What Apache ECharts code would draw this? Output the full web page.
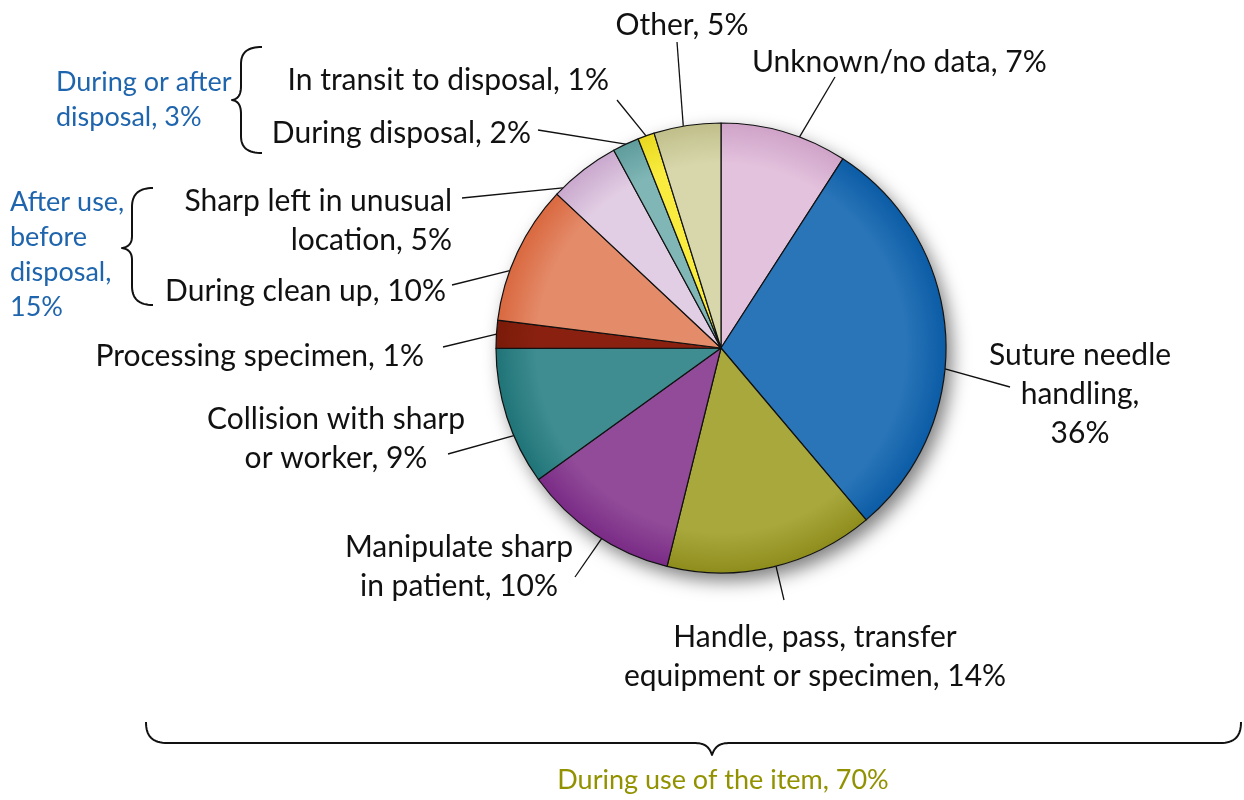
<!DOCTYPE html>
<html lang="en">
<head>
    <meta charset="UTF-8">
    <title>Sharps injuries by activity</title>
    <script src="https://cdn.jsdelivr.net/npm/echarts@6/dist/echarts.min.js"></script>
    <style>
        body { margin: 0; background: #fff; }
        #main { width: 1244px; height: 800px; }
    </style>
</head>
<body>
    <div id="main"></div>
    <script>
    // slices, clockwise from 12 o'clock
    var categories = [
        'Unknown/no data', 'Suture needle handling', 'Handle, pass, transfer equipment or specimen',
        'Manipulate sharp in patient', 'Collision with sharp or worker', 'Processing specimen',
        'During clean up', 'Sharp left in unusual location', 'During disposal',
        'In transit to disposal', 'Other'
    ];
    var values = [9.1, 29.7, 15.0, 11.2, 9.9, 2.0, 10.0, 5.1, 1.9, 1.2, 4.8];
    // printed labels
    var labels = [
        'Unknown/no data, 7%',
        'Suture needle\nhandling,\n36%',
        'Handle, pass, transfer\nequipment or specimen, 14%',
        'Manipulate sharp\nin patient, 10%',
        'Collision with sharp\nor worker, 9%',
        'Processing specimen, 1%',
        'During clean up, 10%',
        'Sharp left in unusual\nlocation, 5%',
        'During disposal, 2%',
        'In transit to disposal, 1%',
        'Other, 5%'
    ];
    var colors = ['#e3c2dd', '#2a75b8', '#a9a83d', '#914b98', '#3f8d90', '#8a2110',
        '#e48b6a', '#e2cee4', '#80b6b6', '#f9ec3e', '#d8d7ac'];
    var rims = ['#cfa3c8', '#0b5ca6', '#8e8d1c', '#7a2b86', '#1f7477', '#7a1a08',
        '#d9683f', '#c9a8cd', '#5f9c9c', '#e8d820', '#c0bf8a'];

    // label placement: [x, y, align]
    var labelPos = [
        [752, 62, 'left'], [1080, 394, 'center'], [815, 657, 'center'],
        [459, 567, 'center'], [336, 439, 'center'], [424, 356, 'right'],
        [446, 291, 'right'], [452, 221, 'right'], [531, 133, 'right'],
        [609, 80, 'right'], [682, 25, 'center']
    ];
    // text end of each leader line, and how far (degrees, clockwise) its
    // pie end sits from the slice middle
    var leaderEnd = [
        [835, 77], [1010, 387], [784, 600], [575, 577], [448, 454], [443, 347],
        [452, 285], [462, 198], [538, 130], [617, 100], [677, 42]
    ];
    var anchorShift = [4, 9, -1, -2, -5, 0, -5, -7, 0, 0, -1];

    var cx = 721, cy = 348, R = 225;

    // curly braces as M/C/L paths, sampled to polylines
    function pathToPoints(d) {
        var tok = d.match(/[MCL]|-?[\d.]+/g);
        var pts = [], cur = null, i = 0, cmd;
        while (i < tok.length) {
            if (/[MCL]/.test(tok[i])) { cmd = tok[i++]; }
            if (cmd === 'M' || cmd === 'L') {
                cur = [+tok[i], +tok[i + 1]]; i += 2;
                pts.push(cur);
            } else if (cmd === 'C') {
                var p1 = [+tok[i], +tok[i + 1]], p2 = [+tok[i + 2], +tok[i + 3]], p3 = [+tok[i + 4], +tok[i + 5]];
                i += 6;
                for (var t = 1; t <= 16; t++) {
                    var s = t / 16, u = 1 - s;
                    pts.push([
                        u * u * u * cur[0] + 3 * u * u * s * p1[0] + 3 * u * s * s * p2[0] + s * s * s * p3[0],
                        u * u * u * cur[1] + 3 * u * u * s * p1[1] + 3 * u * s * s * p2[1] + s * s * s * p3[1]
                    ]);
                }
                cur = p3;
            }
        }
        return pts;
    }
    function brace(d) {
        return {
            type: 'polyline',
            shape: { points: pathToPoints(d) },
            style: { stroke: '#111', lineWidth: 2, fill: null, lineJoin: 'round' }
        };
    }

    var myChart = echarts.init(document.getElementById('main'));

    var pieData = values.map(function (v, i) {
        return {
            name: categories[i],
            value: v,
            itemStyle: {
                color: {
                    type: 'radial', x: cx, y: cy, r: R, global: true,
                    colorStops: [
                        { offset: 0, color: colors[i] },
                        { offset: 0.82, color: colors[i] },
                        { offset: 1, color: rims[i] }
                    ]
                }
            }
        };
    });

    var option = {
        backgroundColor: '#fff',
        animation: false,
        series: [{
            // backing disc that carries the drop shadow
            type: 'pie',
            silent: true,
            center: [cx, cy],
            radius: R,
            label: { show: false },
            labelLine: { show: false },
            itemStyle: {
                color: '#fff',
                shadowBlur: 18,
                shadowOffsetX: 6,
                shadowOffsetY: 8,
                shadowColor: 'rgba(0,0,0,0.5)'
            },
            data: [1]
        }, {
            type: 'pie',
            center: [cx, cy],
            radius: R,
            startAngle: 90,
            clockwise: true,
            avoidLabelOverlap: false,
            itemStyle: { borderColor: '#111', borderWidth: 1.2 },
            label: {
                show: true,
                position: 'outside',
                color: '#111',
                fontFamily: 'Lato',
                fontSize: 30,
                lineHeight: 39,
                formatter: function (p) { return labels[p.dataIndex]; }
            },
            labelLine: {
                show: true,
                length: 20,
                length2: 0,
                lineStyle: { color: '#111', width: 1.3 }
            },
            labelLayout: function (params) {
                var i = params.dataIndex;
                var pos = labelPos[i];
                var out = {
                    x: pos[0],
                    y: pos[1],
                    align: pos[2],
                    verticalAlign: 'middle'
                };
                if (params.labelLinePoints) {
                    var p0 = params.labelLinePoints[0];
                    var a = Math.atan2(p0[1] - cy, p0[0] - cx) + anchorShift[i] * Math.PI / 180;
                    var r = Math.sqrt((p0[0] - cx) * (p0[0] - cx) + (p0[1] - cy) * (p0[1] - cy));
                    out.labelLinePoints = [[cx + r * Math.cos(a), cy + r * Math.sin(a)], leaderEnd[i]];
                }
                return out;
            },
            emphasis: { disabled: true },
            data: pieData
        }],
        graphic: [
            brace('M262,47 C248,47 241,52 241,64 L241,86 C241,95 238,99 232,100 C238,101 241,105 241,114 L241,136 C241,148 248,153 262,153'),
            brace('M153,188 C139,188 132,194 132,207 L132,236 C132,244 128,247 122,248 C128,249 132,252 132,260 L132,286 C132,299 139,305 153,305'),
            brace('M146,722 C146,736 152,743 168,743 L694,743 C704,743 709,746 712,755 C715,746 720,743 730,743 L1220,743 C1235,743 1241,736 1241,722'),
            {
                type: 'text',
                x: 56, y: 100,
                style: {
                    text: 'During or after\ndisposal, 3%',
                    font: '27px Lato', fill: '#1f65ad',
                    lineHeight: 35, verticalAlign: 'middle'
                }
            }, {
                type: 'text',
                x: 10, y: 255,
                style: {
                    text: 'After use,\nbefore\ndisposal,\n15%',
                    font: '27px Lato', fill: '#1f65ad',
                    lineHeight: 35, verticalAlign: 'middle'
                }
            }, {
                type: 'text',
                x: 723, y: 780,
                style: {
                    text: 'During use of the item, 70%',
                    font: '27px Lato', fill: '#929200',
                    align: 'center', verticalAlign: 'middle'
                }
            }
        ]
    };

    myChart.setOption(option);
    </script>
</body>
</html>
